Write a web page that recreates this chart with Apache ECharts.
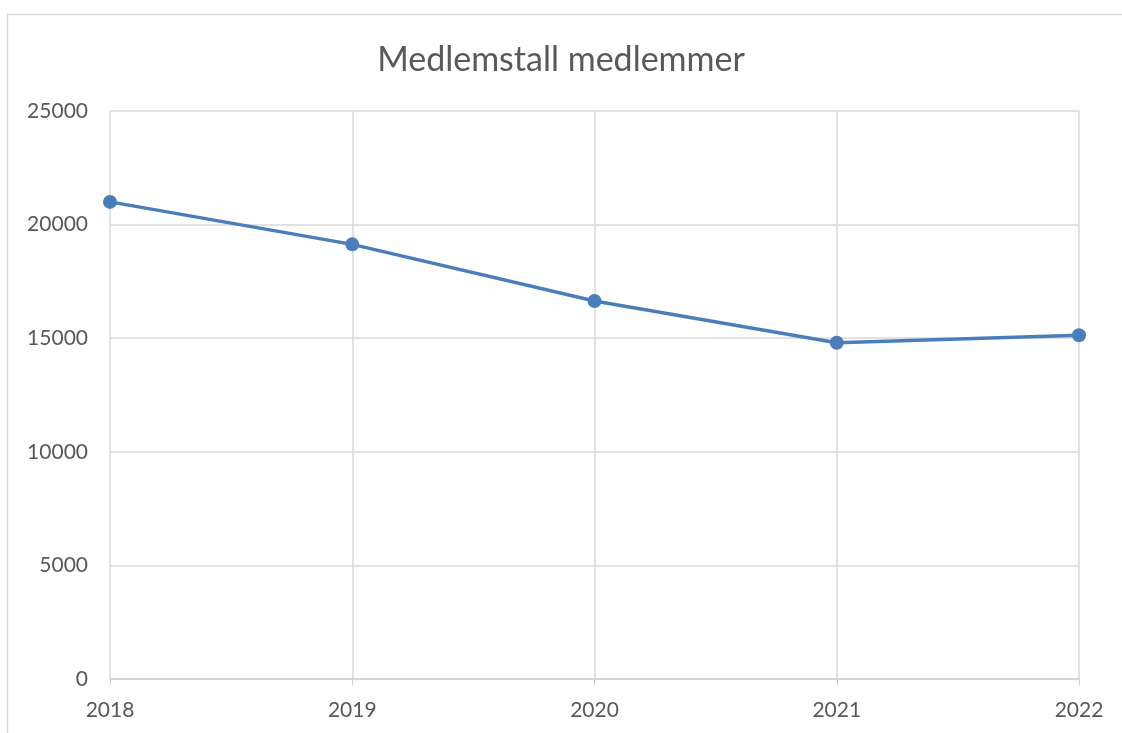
<!DOCTYPE html>
<html><head><meta charset="utf-8">
<script src="https://cdn.jsdelivr.net/npm/echarts@6/dist/echarts.min.js"></script>
<style>html,body{margin:0;padding:0;background:#fff;}#c{width:1122px;height:733px;}</style>
</head><body><div id="c"></div>
<script>
var years = ['2018','2019','2020','2021','2022'];
var members = [21000, 19130, 16640, 14800, 15130];
var yTicks = [0, 5000, 10000, 15000, 20000, 25000];

var chart = echarts.init(document.getElementById('c'));
chart.setOption({
  animation: false,
  backgroundColor: '#fff',
  title: {
    text: 'Medlemstall medlemmer', left: 'center', top: 38,
    textStyle: {fontFamily: 'Lato', fontSize: 34, fontWeight: 'normal', color: '#595959'}
  },
  graphic: [{type: 'rect', left: 5, top: 12, shape: {width: 1130, height: 740},
    style: {fill: 'none', stroke: '#d9d9d9', lineWidth: 1.5}, silent: true, z: -1}],
  grid: {left: 110, right: 43, top: 111, bottom: 54},
  xAxis: {
    type: 'category', data: years, boundaryGap: false,
    axisLine: {lineStyle: {color: '#d0d0d0', width: 1.5}},
    axisTick: {show: true, length: 6, lineStyle: {color: '#d0d0d0'}},
    splitLine: {show: true, lineStyle: {color: '#d9d9d9', width: 1.5}},
    axisLabel: {fontFamily: 'Lato', fontSize: 21, color: '#595959', margin: 21}
  },
  yAxis: {
    type: 'value', min: yTicks[0], max: yTicks[yTicks.length-1], interval: 5000,
    axisLine: {show: false}, axisTick: {show: false},
    splitLine: {lineStyle: {color: '#d9d9d9', width: 1.5}},
    axisLabel: {fontFamily: 'Lato', fontSize: 21, color: '#595959', margin: 22,
      formatter: function (v) { return String(v); }}
  },
  series: [{
    type: 'line', data: members, symbol: 'circle', symbolSize: 14,
    lineStyle: {color: '#4a7ebb', width: 3.5},
    itemStyle: {color: '#4a7ebb'}
  }]
});
</script></body></html>
